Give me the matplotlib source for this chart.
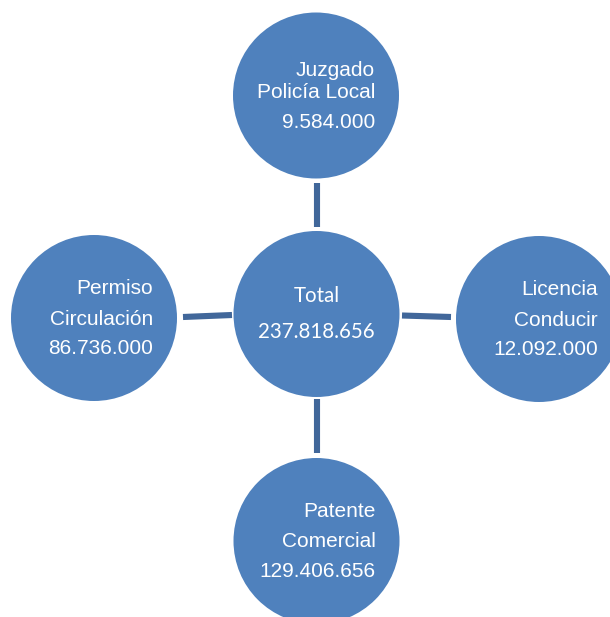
import matplotlib
matplotlib.use("Agg")
import matplotlib.pyplot as plt
from matplotlib.patches import Circle

# --------------------------------------------------------------------------- #
# Data
# --------------------------------------------------------------------------- #
total_label = "Total"
node_names = [
    ["Juzgado", "Policía Local"],
    ["Licencia", "Conducir"],
    ["Patente", "Comercial"],
    ["Permiso", "Circulación"],
]
node_values = [9584000, 12092000, 129406656, 86736000]
total_value = sum(node_values)

# --------------------------------------------------------------------------- #
# Layout (pixel coordinates, y grows downward)
# --------------------------------------------------------------------------- #
W, H = 610, 617
center_xy = (316.5, 314)
radius = 83
node_xy = [(316, 95.5), (539, 319), (316.5, 541), (94, 318)]
line_offsets = [
    [-19.5, 2.5, 32.5],
    [-24, 7, 36],
    [-24, 6, 36],
    [-24, 7, 36],
]
text_dx = 59
connectors = [
    ((317, 183), (317, 227)),
    ((402, 315.5), (451, 317)),
    ((317, 399), (317, 453)),
    ((183, 317), (232, 315)),
]

fill = "#4F81BD"
link = "#41679A"


def fmt(v):
    return f"{v:,}".replace(",", ".")


fig = plt.figure(figsize=(W / 100, H / 100), dpi=100)
ax = fig.add_axes([0, 0, 1, 1])
ax.set_xlim(0, W)
ax.set_ylim(H, 0)
ax.set_aspect("equal")
ax.axis("off")

for (x0, y0), (x1, y1) in connectors:
    ax.plot([x0, x1], [y0, y1], color=link, lw=4.4, solid_capstyle="butt")

ax.add_patch(Circle(center_xy, radius, facecolor=fill, edgecolor="none"))
ax.text(center_xy[0], 302, total_label, ha="center", va="baseline",
        color="white", fontsize=14.8, family="Lato")
ax.text(center_xy[0], 338, fmt(total_value), ha="center", va="baseline",
        color="white", fontsize=14.8, family="Lato")

for (cx, cy), names, val, offs in zip(node_xy, node_names, node_values, line_offsets):
    ax.add_patch(Circle((cx, cy), radius, facecolor=fill, edgecolor="none"))
    lines = names + [fmt(val)]
    for txt, dy in zip(lines, offs):
        ax.text(cx + text_dx, cy + dy, txt, ha="right", va="baseline",
                color="white", fontsize=15, family="Liberation Sans")

fig.savefig("out.png", dpi=100)
plt.close(fig)
